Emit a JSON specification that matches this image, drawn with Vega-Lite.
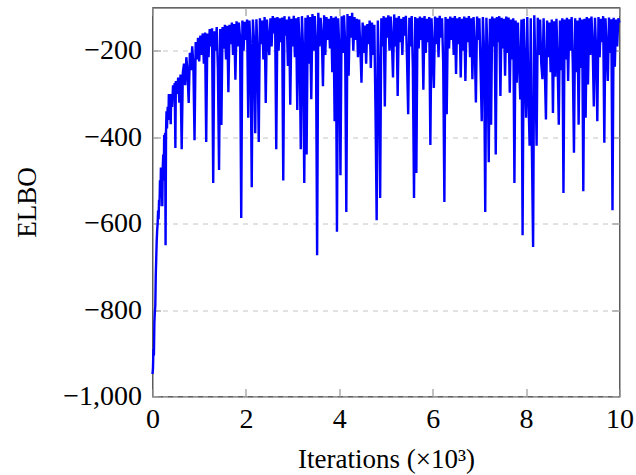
{
"$schema":"https://vega.github.io/schema/vega-lite/v6.json",
"width":467,"height":389,
"autosize":{"type":"none"},
"padding":{"left":152.5,"top":7.5,"right":16.5,"bottom":78.5},
"config":{"view":{"stroke":"#333333","strokeWidth":1.2},"font":"Liberation Serif",
"axis":{"domain":false,"labelFont":"Liberation Serif","titleFont":"Liberation Serif","labelFontSize":28,"titleFontSize":27,"titleFontWeight":"normal","labelColor":"#000","titleColor":"#000","tickColor":"#9a9a9a","tickWidth":1.2,"tickSize":-8,"labelFlush":false}},
"data":{"values":[
{"x":0,"y":-948},{"x":0.01,"y":-935},{"x":0.02,"y":-890},{"x":0.03,"y":-905},{"x":0.04,"y":-830},{"x":0.05,"y":-805},{"x":0.06,"y":-790},{"x":0.07,"y":-720},{"x":0.08,"y":-680},{"x":0.09,"y":-640},{"x":0.1,"y":-615},{"x":0.11,"y":-600},{"x":0.12,"y":-570},{"x":0.13,"y":-590},{"x":0.14,"y":-545},{"x":0.15,"y":-560},{"x":0.16,"y":-500},{"x":0.17,"y":-540},{"x":0.18,"y":-470},{"x":0.19,"y":-520},{"x":0.2,"y":-490},{"x":0.21,"y":-560},{"x":0.22,"y":-470},{"x":0.23,"y":-440},{"x":0.24,"y":-500},{"x":0.25,"y":-395},{"x":0.26,"y":-420},{"x":0.27,"y":-390},{"x":0.28,"y":-650},{"x":0.29,"y":-385},{"x":0.3,"y":-340},{"x":0.31,"y":-380},{"x":0.325,"y":-330},{"x":0.34,"y":-360},{"x":0.35,"y":-300},{"x":0.365,"y":-340},{"x":0.375,"y":-310},{"x":0.39,"y":-370},{"x":0.4,"y":-300},{"x":0.42,"y":-330},{"x":0.44,"y":-280},{"x":0.46,"y":-310},{"x":0.475,"y":-275},{"x":0.49,"y":-425},{"x":0.5,"y":-270},
{"x":0.525,"y":-300},{"x":0.55,"y":-262},{"x":0.575,"y":-320},{"x":0.6,"y":-255},{"x":0.625,"y":-428},{"x":0.65,"y":-250},{"x":0.675,"y":-230},{"x":0.7,"y":-280},{"x":0.725,"y":-215},{"x":0.75,"y":-250},{"x":0.775,"y":-321},{"x":0.8,"y":-205},{"x":0.825,"y":-245},{"x":0.85,"y":-190},{"x":0.875,"y":-230},{"x":0.9,"y":-407},{"x":0.925,"y":-180},{"x":0.95,"y":-220},{"x":0.975,"y":-170},
{"x":1.0,"y":-225},{"x":1.025,"y":-165},{"x":1.05,"y":-210},{"x":1.075,"y":-160},{"x":1.1,"y":-230},{"x":1.125,"y":-158},{"x":1.15,"y":-411},{"x":1.175,"y":-160},{"x":1.2,"y":-215},{"x":1.225,"y":-150},{"x":1.25,"y":-190},{"x":1.275,"y":-148},{"x":1.3,"y":-506},{"x":1.325,"y":-155},{"x":1.35,"y":-200},{"x":1.375,"y":-145},{"x":1.4,"y":-240},{"x":1.425,"y":-476},{"x":1.45,"y":-150},{"x":1.475,"y":-372},{"x":1.5,"y":-145},{"x":1.525,"y":-195},{"x":1.55,"y":-140},{"x":1.575,"y":-220},{"x":1.6,"y":-142},{"x":1.625,"y":-296},{"x":1.65,"y":-140},{"x":1.675,"y":-185},{"x":1.7,"y":-135},{"x":1.725,"y":-210},{"x":1.75,"y":-138},{"x":1.775,"y":-267},{"x":1.8,"y":-132},{"x":1.825,"y":-190},{"x":1.85,"y":-135},{"x":1.875,"y":-170},{"x":1.9,"y":-587},{"x":1.925,"y":-130},{"x":1.95,"y":-200},{"x":1.975,"y":-133},
{"x":2.0,"y":-175},{"x":2.025,"y":-128},{"x":2.05,"y":-355},{"x":2.075,"y":-130},{"x":2.1,"y":-195},{"x":2.125,"y":-516},{"x":2.15,"y":-128},{"x":2.175,"y":-180},{"x":2.2,"y":-391},{"x":2.225,"y":-127},{"x":2.25,"y":-205},{"x":2.275,"y":-411},{"x":2.3,"y":-125},{"x":2.325,"y":-185},{"x":2.35,"y":-130},{"x":2.375,"y":-220},{"x":2.4,"y":-122},{"x":2.425,"y":-321},{"x":2.45,"y":-128},{"x":2.475,"y":-175},
{"x":2.5,"y":-210},{"x":2.525,"y":-125},{"x":2.55,"y":-190},{"x":2.575,"y":-120},{"x":2.6,"y":-160},{"x":2.625,"y":-124},{"x":2.65,"y":-428},{"x":2.675,"y":-122},{"x":2.7,"y":-200},{"x":2.725,"y":-125},{"x":2.75,"y":-180},{"x":2.775,"y":-123},{"x":2.8,"y":-500},{"x":2.825,"y":-120},{"x":2.85,"y":-165},{"x":2.875,"y":-128},{"x":2.9,"y":-235},{"x":2.925,"y":-121},{"x":2.95,"y":-325},{"x":2.975,"y":-126},
{"x":3.0,"y":-190},{"x":3.025,"y":-119},{"x":3.05,"y":-215},{"x":3.075,"y":-125},{"x":3.1,"y":-337},{"x":3.125,"y":-122},{"x":3.15,"y":-185},{"x":3.175,"y":-428},{"x":3.2,"y":-120},{"x":3.225,"y":-200},{"x":3.25,"y":-506},{"x":3.275,"y":-124},{"x":3.3,"y":-440},{"x":3.325,"y":-118},{"x":3.35,"y":-230},{"x":3.375,"y":-122},{"x":3.4,"y":-312},{"x":3.425,"y":-115},{"x":3.45,"y":-200},{"x":3.475,"y":-120},{"x":3.5,"y":-175},{"x":3.525,"y":-673},{"x":3.55,"y":-112},{"x":3.575,"y":-190},{"x":3.6,"y":-124},{"x":3.625,"y":-165},{"x":3.65,"y":-282},{"x":3.675,"y":-118},{"x":3.7,"y":-210},{"x":3.725,"y":-122},{"x":3.75,"y":-175},{"x":3.775,"y":-126},{"x":3.8,"y":-195},{"x":3.825,"y":-120},{"x":3.85,"y":-250},{"x":3.875,"y":-124},{"x":3.9,"y":-363},{"x":3.925,"y":-121},{"x":3.95,"y":-619},{"x":3.975,"y":-125},
{"x":4.0,"y":-190},{"x":4.025,"y":-488},{"x":4.05,"y":-120},{"x":4.075,"y":-205},{"x":4.1,"y":-118},{"x":4.125,"y":-180},{"x":4.15,"y":-573},{"x":4.175,"y":-115},{"x":4.2,"y":-258},{"x":4.225,"y":-120},{"x":4.25,"y":-170},{"x":4.275,"y":-112},{"x":4.3,"y":-200},{"x":4.325,"y":-122},{"x":4.35,"y":-175},{"x":4.375,"y":-126},{"x":4.4,"y":-215},{"x":4.425,"y":-128},{"x":4.45,"y":-190},{"x":4.475,"y":-274},{"x":4.5,"y":-135},{"x":4.525,"y":-205},{"x":4.55,"y":-142},{"x":4.575,"y":-230},{"x":4.6,"y":-138},{"x":4.625,"y":-185},{"x":4.65,"y":-130},{"x":4.675,"y":-240},{"x":4.7,"y":-135},{"x":4.725,"y":-210},{"x":4.75,"y":-140},{"x":4.775,"y":-337},{"x":4.8,"y":-592},{"x":4.825,"y":-130},{"x":4.85,"y":-250},{"x":4.875,"y":-541},{"x":4.9,"y":-125},{"x":4.925,"y":-190},{"x":4.95,"y":-120},{"x":4.975,"y":-329},
{"x":5.0,"y":-123},{"x":5.025,"y":-170},{"x":5.05,"y":-118},{"x":5.075,"y":-200},{"x":5.1,"y":-121},{"x":5.125,"y":-175},{"x":5.15,"y":-262},{"x":5.175,"y":-116},{"x":5.2,"y":-190},{"x":5.225,"y":-124},{"x":5.25,"y":-305},{"x":5.275,"y":-120},{"x":5.3,"y":-180},{"x":5.325,"y":-126},{"x":5.35,"y":-210},{"x":5.375,"y":-122},{"x":5.4,"y":-165},{"x":5.425,"y":-119},{"x":5.45,"y":-220},{"x":5.475,"y":-347},{"x":5.5,"y":-124},{"x":5.525,"y":-190},{"x":5.55,"y":-120},{"x":5.575,"y":-240},{"x":5.6,"y":-541},{"x":5.625,"y":-122},{"x":5.65,"y":-483},{"x":5.675,"y":-125},{"x":5.7,"y":-195},{"x":5.725,"y":-121},{"x":5.75,"y":-175},{"x":5.775,"y":-124},{"x":5.8,"y":-290},{"x":5.825,"y":-120},{"x":5.85,"y":-205},{"x":5.875,"y":-126},{"x":5.9,"y":-180},{"x":5.925,"y":-122},{"x":5.95,"y":-418},{"x":5.975,"y":-125},
{"x":6.0,"y":-200},{"x":6.025,"y":-286},{"x":6.05,"y":-121},{"x":6.075,"y":-185},{"x":6.1,"y":-124},{"x":6.125,"y":-215},{"x":6.15,"y":-119},{"x":6.175,"y":-170},{"x":6.2,"y":-125},{"x":6.225,"y":-230},{"x":6.25,"y":-550},{"x":6.275,"y":-122},{"x":6.3,"y":-347},{"x":6.325,"y":-126},{"x":6.35,"y":-195},{"x":6.375,"y":-121},{"x":6.4,"y":-175},{"x":6.425,"y":-124},{"x":6.45,"y":-210},{"x":6.475,"y":-120},{"x":6.5,"y":-254},{"x":6.525,"y":-125},{"x":6.55,"y":-185},{"x":6.575,"y":-122},{"x":6.6,"y":-262},{"x":6.625,"y":-126},{"x":6.65,"y":-200},{"x":6.675,"y":-121},{"x":6.7,"y":-270},{"x":6.725,"y":-124},{"x":6.75,"y":-180},{"x":6.775,"y":-120},{"x":6.8,"y":-215},{"x":6.825,"y":-125},{"x":6.85,"y":-266},{"x":6.875,"y":-122},{"x":6.9,"y":-190},{"x":6.925,"y":-320},{"x":6.95,"y":-121},{"x":6.975,"y":-175},
{"x":7.0,"y":-125},{"x":7.025,"y":-240},{"x":7.05,"y":-363},{"x":7.075,"y":-122},{"x":7.1,"y":-200},{"x":7.125,"y":-573},{"x":7.15,"y":-124},{"x":7.175,"y":-210},{"x":7.2,"y":-458},{"x":7.225,"y":-126},{"x":7.25,"y":-371},{"x":7.275,"y":-121},{"x":7.3,"y":-190},{"x":7.325,"y":-125},{"x":7.35,"y":-440},{"x":7.375,"y":-122},{"x":7.4,"y":-180},{"x":7.425,"y":-120},{"x":7.45,"y":-305},{"x":7.475,"y":-124},{"x":7.5,"y":-195},{"x":7.525,"y":-126},{"x":7.55,"y":-258},{"x":7.575,"y":-121},{"x":7.6,"y":-205},{"x":7.625,"y":-123},{"x":7.65,"y":-297},{"x":7.675,"y":-128},{"x":7.7,"y":-220},{"x":7.725,"y":-125},{"x":7.75,"y":-506},{"x":7.775,"y":-130},{"x":7.8,"y":-274},{"x":7.825,"y":-135},{"x":7.85,"y":-230},{"x":7.875,"y":-313},{"x":7.9,"y":-128},{"x":7.925,"y":-627},{"x":7.95,"y":-126},{"x":7.975,"y":-240},
{"x":8.0,"y":-355},{"x":8.025,"y":-122},{"x":8.05,"y":-305},{"x":8.075,"y":-420},{"x":8.1,"y":-125},{"x":8.125,"y":-436},{"x":8.15,"y":-654},{"x":8.175,"y":-118},{"x":8.2,"y":-250},{"x":8.225,"y":-420},{"x":8.25,"y":-124},{"x":8.275,"y":-210},{"x":8.3,"y":-128},{"x":8.325,"y":-230},{"x":8.35,"y":-266},{"x":8.375,"y":-125},{"x":8.4,"y":-240},{"x":8.425,"y":-359},{"x":8.45,"y":-130},{"x":8.475,"y":-215},{"x":8.5,"y":-135},{"x":8.525,"y":-250},{"x":8.55,"y":-128},{"x":8.575,"y":-344},{"x":8.6,"y":-132},{"x":8.625,"y":-260},{"x":8.65,"y":-126},{"x":8.675,"y":-230},{"x":8.7,"y":-371},{"x":8.725,"y":-130},{"x":8.75,"y":-245},{"x":8.775,"y":-125},{"x":8.8,"y":-529},{"x":8.825,"y":-128},{"x":8.85,"y":-220},{"x":8.875,"y":-124},{"x":8.9,"y":-270},{"x":8.925,"y":-127},{"x":8.95,"y":-200},{"x":8.975,"y":-122},
{"x":9.0,"y":-230},{"x":9.025,"y":-436},{"x":9.05,"y":-125},{"x":9.075,"y":-250},{"x":9.1,"y":-130},{"x":9.125,"y":-371},{"x":9.15,"y":-124},{"x":9.175,"y":-240},{"x":9.2,"y":-128},{"x":9.225,"y":-525},{"x":9.25,"y":-126},{"x":9.275,"y":-355},{"x":9.3,"y":-122},{"x":9.325,"y":-278},{"x":9.35,"y":-125},{"x":9.375,"y":-210},{"x":9.4,"y":-121},{"x":9.425,"y":-185},{"x":9.45,"y":-329},{"x":9.475,"y":-124},{"x":9.5,"y":-200},{"x":9.525,"y":-363},{"x":9.55,"y":-122},{"x":9.575,"y":-215},{"x":9.6,"y":-126},{"x":9.625,"y":-180},{"x":9.65,"y":-120},{"x":9.675,"y":-413},{"x":9.7,"y":-125},{"x":9.725,"y":-195},{"x":9.75,"y":-270},{"x":9.775,"y":-123},{"x":9.8,"y":-205},{"x":9.825,"y":-127},{"x":9.85,"y":-569},{"x":9.875,"y":-124},{"x":9.9,"y":-237},{"x":9.925,"y":-128},{"x":9.95,"y":-190},{"x":9.975,"y":-125},{"x":10.0,"y":-135}
]},
"layer":[
{"mark":{"type":"line","color":"#0000ff","strokeWidth":2.4},
"encoding":{
"x":{"field":"x","type":"quantitative","scale":{"domain":[0,10],"nice":false,"zero":false},
"axis":{"orient":"bottom","values":[0,2,4,6,8,10],"format":"d","labelPadding":17,"title":"Iterations (×10³)","titleBaseline":"alphabetic","titleY":71,"grid":false}},
"y":{"field":"y","type":"quantitative","scale":{"domain":[-1000,-100],"nice":false,"zero":false},
"axis":{"orient":"left","values":[-1000,-800,-600,-400,-200],"format":",d","labelPadding":19,"grid":true,"gridDash":[5,5],"gridColor":"#c4c4c4","gridWidth":1,"title":"ELBO","titleBaseline":"alphabetic","titleX":-117.5,"titleAngle":-90}}}},
{"mark":{"type":"line","opacity":0},
"encoding":{
"x":{"field":"x","type":"quantitative","axis":{"orient":"top","values":[0,2,4,6,8,10],"labels":false,"title":null,"grid":false}},
"y":{"field":"y","type":"quantitative","axis":{"orient":"right","values":[-1000,-800,-600,-400,-200],"labels":false,"title":null,"grid":false}}}}
],
"resolve":{"axis":{"x":"independent","y":"independent"}}
}
